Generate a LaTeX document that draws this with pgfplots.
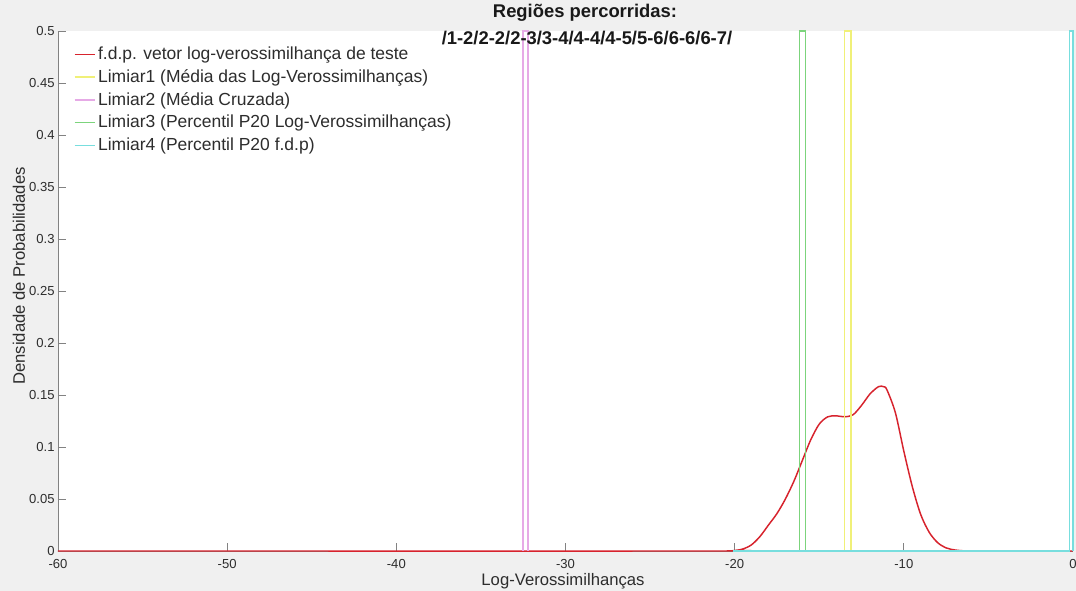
\documentclass[border=0pt]{standalone}
\usepackage{pgfplots}
\pgfplotsset{compat=1.18}
\usepackage{fontspec}
\setmainfont{Liberation Sans}
\definecolor{bgc}{HTML}{F0F0F0}
\definecolor{fdpred}{HTML}{D7232D}
\definecolor{limyel}{HTML}{F0F078}
\definecolor{limpink}{HTML}{E6AAE6}
\definecolor{limgrn}{HTML}{7CD47C}
\definecolor{limcya}{HTML}{78DEDE}
\definecolor{axc}{HTML}{828282}
\definecolor{txc}{HTML}{2D2D2D}
\begin{document}
\begin{tikzpicture}
\clip (0pt,0pt) rectangle (807pt,443.25pt);
\fill[bgc] (0pt,0pt) rectangle (807pt,443.25pt);
\begin{axis}[
  at={(43.5pt,30pt)}, anchor=south west,
  scale only axis, width=761.25pt, height=390pt,
  xmin=-60, xmax=0, ymin=0, ymax=0.5,
  axis x line*=bottom, axis y line*=left,
  axis line style={axc, line width=0.6pt},
  axis background/.style={fill=white},
  xtick={-60,-50,-40,-30,-20,-10,0},
  ytick={0,0.05,0.1,0.15,0.2,0.25,0.3,0.35,0.4,0.45,0.5},
  yticklabel style={/pgf/number format/fixed, /pgf/number format/precision=2},
  /pgf/number format/assume math mode=true,
  tick align=inside, major tick length=6pt,
  tick style={axc, line width=0.6pt},
  ticklabel style={font=\fontsize{9.8}{11}\selectfont, text=txc},
  xticklabel style={yshift=-2.5pt},
  yticklabel style={xshift=1pt},
  legend style={at={(0.0155,0.975)}, anchor=north west, draw=none, fill=none,
     font=\fontsize{13.1}{15}\selectfont, text=txc, row sep=2pt,
     inner sep=0pt, cells={anchor=west}},
  legend image code/.code={\draw[#1] (0pt,0pt) -- (15pt,0pt);},
  clip=false,
]
\addplot[color=fdpred, line width=1.1pt, smooth] coordinates {
(-60,0) (-21,0) (-20,0.0005) (-19.5,0.002) (-19,0.006) (-18.5,0.014) (-18,0.025)
(-17.5,0.036) (-17,0.05) (-16.5,0.067) (-16,0.087) (-15.5,0.107) (-15,0.122)
(-14.5,0.129) (-14,0.13) (-13.5,0.129) (-13,0.131) (-12.5,0.14) (-12,0.151)
(-11.5,0.158) (-11.2,0.158) (-11,0.155) (-10.5,0.133) (-10,0.096) (-9.5,0.062)
(-9,0.035) (-8.5,0.018) (-8,0.008) (-7.5,0.003) (-7,0.001) (-6.5,0.0002) (-6,0) (0,0)};
\addlegendentry{f.d.p. vetor log-verossimilhança de teste}
\addplot[color=limyel, line width=1pt] coordinates {(-13.49,0) (-13.49,0.5) (-13.13,0.5) (-13.13,0)};
\addlegendentry{Limiar1 (Média das Log-Verossimilhanças)}
\addplot[color=limpink, line width=1pt] coordinates {(-32.52,0) (-32.52,0.5) (-32.22,0.5) (-32.22,0)};
\addlegendentry{Limiar2 (Média Cruzada)}
\addplot[color=limgrn, line width=1pt] coordinates {(-16.15,0) (-16.15,0.5) (-15.8,0.5) (-15.8,0)};
\addlegendentry{Limiar3 (Percentil P20 Log-Verossimilhanças)}
\addplot[color=limcya, line width=1pt] coordinates {(-20.1,0) (-0.22,0) (-0.22,0.5) (0,0.5) (0,0)};
\addlegendentry{Limiar4 (Percentil P20 f.d.p)}
\end{axis}
\begin{scope}[x=0.75pt,y=0.75pt]
\node[font=\fontsize{13.8}{15}\selectfont\bfseries, text=black!90] at (585,578) {Regiões percorridas:};
\node[font=\fontsize{13.8}{15}\selectfont\bfseries, text=black!90] at (587,553) {/1-2/2-2/2-3/3-4/4-4/4-5/5-6/6-6/6-7/};
\node[font=\fontsize{12.5}{14}\selectfont, text=txc, rotate=90] at (19,315) {Densidade de Probabilidades};
\node[font=\fontsize{12.5}{14}\selectfont, text=txc] at (563,10) {Log-Verossimilhanças};
\end{scope}
\end{tikzpicture}
\end{document}
